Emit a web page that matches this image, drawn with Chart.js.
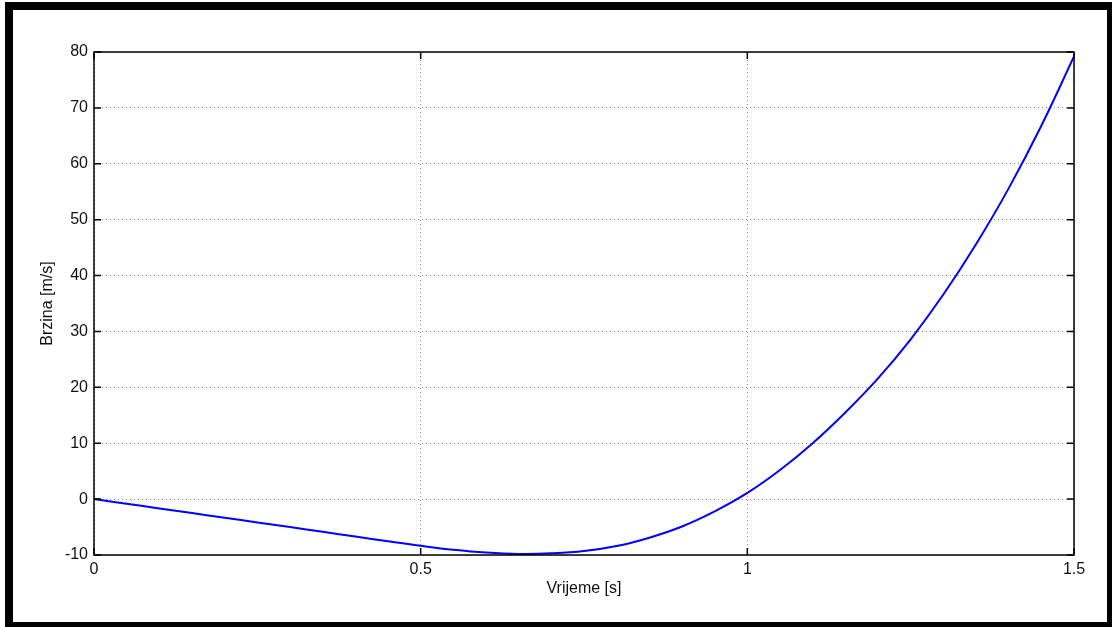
<!DOCTYPE html>
<html>
<head>
<meta charset="utf-8">
<script src="https://cdn.jsdelivr.net/npm/chart.js@4"></script>
<style>
  body { margin: 0; background: #fff; overflow: hidden; }
  #wrap { position: absolute; left: 0; top: 0; width: 1112px; height: 627px; }
  #frame {
    position: absolute; left: 5px; top: 2px; width: 1110px; height: 628px;
    box-sizing: border-box; border: 8px solid #000; pointer-events: none;
  }
</style>
</head>
<body>
<div id="wrap"><canvas id="myChart"></canvas></div>
<div id="frame"></div>
<script>
// values
let timeValues = [0, 0.05, 0.1, 0.15, 0.2, 0.25, 0.3, 0.35, 0.4, 0.45, 0.5, 0.55, 0.6, 0.65, 0.7, 0.75,
                  0.8, 0.85, 0.9, 0.95, 1.0, 1.05, 1.1, 1.15, 1.2, 1.25, 1.3, 1.35, 1.4, 1.45, 1.5];
let speedValues = [0, -0.83, -1.67, -2.5, -3.33, -4.17, -5.0, -5.85, -6.7, -7.55, -8.35, -9.05, -9.55, -9.8, -9.7, -9.3,
                   -8.4, -6.9, -4.9, -2.2, 1.1, 5.2, 10.0, 15.5, 21.6, 28.6, 36.6, 45.6, 55.6, 66.8, 79.2];
let xTicks = [0, 0.5, 1, 1.5];
let yTicks = [-10, 0, 10, 20, 30, 40, 50, 60, 70, 80];

let points = [];
for (let i = 0; i < timeValues.length; i++) {
    points.push({ x: timeValues[i], y: speedValues[i] });
}

const fontFamily = '"Liberation Sans", Arial, sans-serif';

// box around plot area + inward tick marks on all four sides
const frameTicks = {
    id: 'frameTicks',
    afterDraw(chart) {
        const ctx = chart.ctx;
        const a = chart.chartArea;
        const xs = chart.scales.x;
        const ys = chart.scales.y;
        const len = 7;
        ctx.save();
        ctx.strokeStyle = '#000';
        ctx.lineWidth = 1.5;
        ctx.strokeRect(a.left, a.top, a.right - a.left, a.bottom - a.top);
        ctx.beginPath();
        xTicks.forEach(v => {
            const px = xs.getPixelForValue(v);
            ctx.moveTo(px, a.bottom); ctx.lineTo(px, a.bottom - len);
            ctx.moveTo(px, a.top); ctx.lineTo(px, a.top + len);
        });
        yTicks.forEach(v => {
            const py = ys.getPixelForValue(v);
            ctx.moveTo(a.left, py); ctx.lineTo(a.left + len, py);
            ctx.moveTo(a.right, py); ctx.lineTo(a.right - len, py);
        });
        ctx.stroke();
        ctx.restore();
    }
};

const bgPlugin = {
    id: 'bg',
    beforeDraw(chart) {
        const ctx = chart.ctx;
        ctx.save();
        ctx.fillStyle = '#fff';
        ctx.fillRect(0, 0, chart.width, chart.height);
        ctx.restore();
    }
};

const ctx = document.getElementById('myChart').getContext('2d');
const myChart = new Chart(ctx, {
    type: 'line',
    data: {
        datasets: [{
            data: points,
            borderColor: '#0000ff',
            borderWidth: 2,
            pointRadius: 0,
            tension: 0.4,
            fill: false
        }]
    },
    options: {
        responsive: true,
        maintainAspectRatio: false,
        animation: false,
        layout: { padding: { left: 0, top: 52, right: 38, bottom: 0 } },
        plugins: {
            legend: { display: false },
            tooltip: { enabled: false }
        },
        scales: {
            x: {
                type: 'linear',
                min: 0,
                max: 1.5,
                afterFit: s => { s.height = 72; },
                afterBuildTicks: s => { s.ticks = xTicks.map(v => ({ value: v })); },
                grid: {
                    color: '#8a8a8a',
                    lineWidth: 1,
                    drawTicks: false
                },
                border: { display: false, dash: [1, 3] },
                ticks: {
                    padding: 5,
                    color: '#111',
                    font: { family: fontFamily, size: 16 },
                    callback: v => String(v)
                },
                title: {
                    display: true,
                    text: 'Vrijeme [s]',
                    color: '#111',
                    font: { family: fontFamily, size: 16 },
                    padding: { top: 0, bottom: 29 }
                }
            },
            y: {
                min: -10,
                max: 80,
                afterFit: s => { s.width = 94; },
                afterBuildTicks: s => { s.ticks = yTicks.map(v => ({ value: v })); },
                grid: {
                    color: '#8a8a8a',
                    lineWidth: 1,
                    drawTicks: false
                },
                border: { display: false, dash: [1, 3] },
                ticks: {
                    padding: 6,
                    color: '#111',
                    font: { family: fontFamily, size: 16 },
                    callback: v => String(v)
                },
                title: {
                    display: true,
                    text: 'Brzina [m/s]',
                    color: '#111',
                    font: { family: fontFamily, size: 16 },
                    padding: { top: 38, bottom: 0 }
                }
            }
        }
    },
    plugins: [bgPlugin, frameTicks]
});
</script>
</body>
</html>
